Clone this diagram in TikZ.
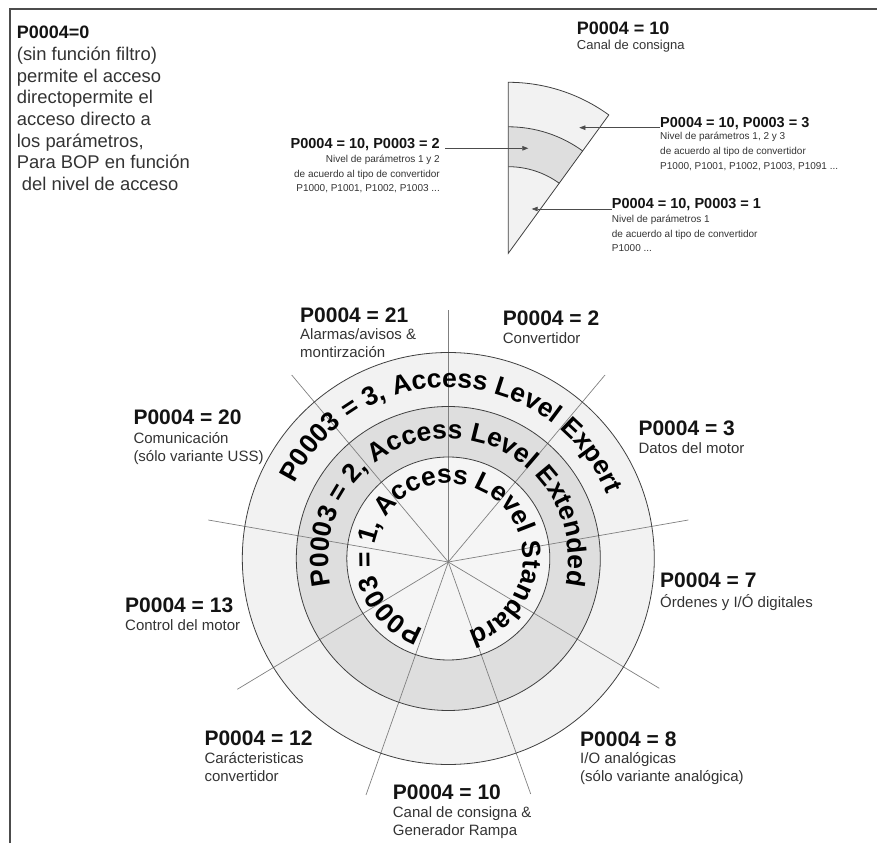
\documentclass[tikz,border=0pt]{standalone}
\usepackage{fontspec}
\setmainfont{Liberation Sans}
\usetikzlibrary{decorations.text,arrows.meta}

\definecolor{ringout}{gray}{0.95}
\definecolor{ringmid}{gray}{0.87}
\definecolor{ringin}{gray}{0.96}
\definecolor{edge}{gray}{0.25}
\definecolor{spoke}{gray}{0.5}
\definecolor{framecol}{gray}{0.3}
\definecolor{subtext}{gray}{0.2}
\definecolor{headtext}{gray}{0.08}

\newcommand{\fsz}[2]{\fontsize{#1}{#2}\selectfont}
\newcommand{\ringfont}{\bfseries\fontsize{26.5}{30}\selectfont}

\begin{document}
\begin{tikzpicture}[x=1pt,y=1pt,
  % multi-line nodes are anchored at the baseline of their last line
  head/.style={font=\bfseries\fsz{21}{25}, inner sep=0pt, anchor=base west, text=headtext},
  sub/.style={font=\fsz{15}{18}, inner sep=0pt, anchor=base west, align=left, text=subtext},
  shead/.style={font=\bfseries\fsz{14.5}{17}, inner sep=0pt, anchor=base west, text=headtext},
  ssub/.style={font=\fsz{10}{14.8}, inner sep=0pt, anchor=base west, align=left, text=subtext},
  ray/.style={draw=spoke, line width=0.7pt},
  rim/.style={draw=edge, line width=0.8pt},
  pointer/.style={draw=gray!60!black, line width=0.6pt, -{Triangle[length=6pt,width=4.5pt]}},
]
\useasboundingbox (0,0) rectangle (877,843);

% page frame (top and left rules)
\draw[framecol, line width=1.8pt] (10,0) -- (10,834) -- (877,834);

% ---------------- dial ----------------
\coordinate (C) at (448.3,284.5);
\coordinate (O) at (448.3,281);
\fill[ringout] (C) circle[radius=206];
\fill[ringmid] (C) circle[radius=152];
\fill[ringin]  (C) circle[radius=101.5];

\coordinate (r1) at (448.3,533);
\coordinate (r2) at (605,468);
\coordinate (r3) at (688.3,323);
\coordinate (r4) at (659.3,154.7);
\coordinate (r5) at (530.7,49);
\coordinate (r6) at (366,48);
\coordinate (r7) at (237.3,153.7);
\coordinate (r8) at (208.3,323);
\coordinate (r9) at (291.7,468);
\foreach \r in {r1,r2,r3,r4,r5,r6,r7,r8,r9}
  \draw[ray] (O) -- (\r);

\draw[rim] (C) circle[radius=206];
\draw[rim] (C) circle[radius=152];
\draw[rim] (C) circle[radius=101.5];

% ring captions
\path[decorate, decoration={text along path, text align=center,
  text={|\ringfont|P0003 = 3, Access Level Expert}}]
  ([shift={(175:171)}]C) arc[start angle=175, end angle=1, radius=171];
\path[decorate, decoration={text along path, text align=center,
  text={|\ringfont|P0003 = 2, Access Level Extended}}]
  ([shift={(222:120)}]C) arc[start angle=222, end angle=-42, radius=120];
\path[decorate, decoration={text along path, text align=center,
  text={|\ringfont|P0003 = 1, Access Level Standard}}]
  ([shift={(265:75)}]C) arc[start angle=265, end angle=-89, radius=75];

% labels around the dial
\node[head] (h21) at (300,520.5) {P0004 = 21};
\node[sub]  (s21) at (300,485.5) {Alarmas/avisos \&\\montirzación};
\node[head] (h2)  at (502.7,517.2) {P0004 = 2};
\node[sub]  (s2)  at (502.7,499.2) {Convertidor};
\node[head] (h20) at (133.3,418.8) {P0004 = 20};
\node[sub]  (s20) at (133.3,381.2) {Comunicación\\(sólo variante USS)};
\node[head] (h3)  at (638.3,407.2) {P0004 = 3};
\node[sub]  (s3)  at (638.3,389.2) {Datos del motor};
\node[head] (h7)  at (660,255.5) {P0004 = 7};
\node[sub]  (s7)  at (660,235.2) {Órdenes y I/Ó digitales};
\node[head] (h13) at (125,230.5) {P0004 = 13};
\node[sub]  (s13) at (125,212.5) {Control del motor};
\node[head] (h12) at (204.3,97.2) {P0004 = 12};
\node[sub]  (s12) at (204.3,61.2) {Carácteristicas\\convertidor};
\node[head] (h10) at (392.7,43.8) {P0004 = 10};
\node[sub]  (s10) at (392.7,7.8) {Canal de consigna \&\\Generador Rampa};
\node[head] (h8)  at (580,96.2) {P0004 = 8};
\node[sub]  (s8)  at (580,61.2) {I/O analógicas\\(sólo variante analógica)};

% ---------------- note, top left ----------------
\node[font=\bfseries\fsz{18}{22}, inner sep=0pt, anchor=base west, text=headtext]
  (h0) at (16.7,804.9) {P0004=0};
\node[font=\fsz{18.4}{21.7}, inner sep=0pt, anchor=base west, align=left, text=subtext]
  (b0) at (16.7,652.4) {(sin función filtro)\\permite el acceso\\directopermite el\\acceso directo a\\los parámetros,\\Para BOP en función\\\hspace*{5pt}del nivel de acceso};

% ---------------- single sector detail ----------------
\coordinate (S) at (508.3,589.7);
\fill[ringout] (S) -- ++(54:171) arc[start angle=54, end angle=90, radius=171] -- cycle;
\fill[ringmid] ([shift={(54:126.5)}]S) arc[start angle=54, end angle=90, radius=126.5]
  -- ([shift={(90:86.6)}]S) arc[start angle=90, end angle=54, radius=86.6] -- cycle;
\draw[rim] ([shift={(54:126.5)}]S) arc[start angle=54, end angle=90, radius=126.5];
\draw[rim] ([shift={(54:86.6)}]S) arc[start angle=54, end angle=90, radius=86.6];
\draw[rim] (S) -- ++(54:171) arc[start angle=54, end angle=90, radius=171] -- cycle;

\node[font=\bfseries\fsz{18}{22}, inner sep=0pt, anchor=base west, text=headtext]
  (hs) at (576.7,808.3) {P0004 = 10};
\node[font=\fsz{13}{16}, inner sep=0pt, anchor=base west, text=subtext]
  (ss) at (576.7,793.1) {Canal de consigna};

\node[shead] (hl3) at (660,715.3) {P0004 = 10, P0003 = 3};
\node[ssub]  (sl3) at (660,673.7) {Nivel de parámetros 1, 2 y 3\\de acuerdo al tipo de convertidor\\P1000, P1001, P1002, P1003, P1091 ...};
\node[shead] (hl1) at (611.7,634) {P0004 = 10, P0003 = 1};
\node[ssub]  (sl1) at (611.7,591.1) {Nivel de parámetros 1\\de acuerdo al tipo de convertidor\\P1000 ...};
\node[shead, anchor=base east] (hl2) at (440,694.7) {P0004 = 10, P0003 = 2};
\node[ssub, anchor=base east, align=right] (sl2) at (440,651.1) {Nivel de parámetros 1 y 2\\de acuerdo al tipo de convertidor\\P1000, P1001, P1002, P1003 ...};

\coordinate (t3) at (579.3,0);
\coordinate (t2) at (528.3,0);
\coordinate (t1) at (531.7,0);
\draw[pointer] (hl3.base west) -- (hl3.base west -| t3);
\draw[pointer] ([xshift=5pt]hl2.base east) -- (hl2.base east -| t2);
\draw[pointer] (hl1.base west) -- (hl1.base west -| t1);
\end{tikzpicture}
\end{document}
